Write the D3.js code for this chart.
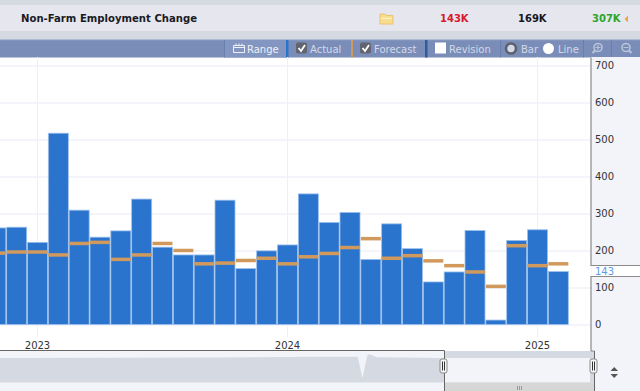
<!DOCTYPE html>
<html>
<head>
<meta charset="utf-8">
<title>Non-Farm Employment Change</title>
<script src="https://cdn.jsdelivr.net/npm/d3@7"></script>
<style>
  html, body { margin: 0; padding: 0; background: #fff; overflow: hidden; }
  svg { display: block; font-family: "DejaVu Sans", sans-serif; }
  .tb { fill: #d3d9e8; font-size: 10px; }
  .axis text { fill: #333; font-size: 10px; font-family: "DejaVu Sans", sans-serif; }
  .axis path { display: none; }
</style>
</head>
<body>
<div id="chart"></div>
<script>
// values are release months
var months = ["2022-11", "2022-12", "2023-01", "2023-02", "2023-03", "2023-04", "2023-05",
  "2023-06", "2023-07", "2023-08", "2023-09", "2023-10", "2023-11", "2023-12",
  "2024-01", "2024-02", "2024-03", "2024-04", "2024-05", "2024-06", "2024-07",
  "2024-08", "2024-09", "2024-10", "2024-11", "2024-12", "2025-01", "2025-02"];
var actual = [261, 263, 222, 517, 309, 236, 253, 339, 209, 188, 188, 336, 151, 199,
  215, 353, 276, 303, 176, 272, 205, 115, 142, 254, 12, 227, 256, 143];
var forecast = [193, 196, 196, 188, 219, 222, 176, 188, 219, 200, 164, 166, 173, 179,
  164, 183, 192, 208, 232, 179, 186, 172, 159, 142, 103, 213, 159, 164];
var yTicks = [0, 100, 200, 300, 400, 500, 600, 700];
var yearTicks = ["2023-01", "2024-01", "2025-01"];
var latest = "143";

var title = "Non-Farm Employment Change";
var headerValues = ["143K", "169K", "307K"];

// overview strip at the bottom, month position and value in thousands
var navMonths = [0, 20, 40, 60, 67.9, 68.8, 69.7, 70.1, 71.5, 76, 84, 95, 112];
var navValues = [300, 500, 800, 1400, 1400, -19700, 2500, 4200, 1000, 600, 300, 200, 200];

var width = 640, height = 391;
var lightBand = "#f2f4fa", greyBand = "#d5d9e2";

var svg = d3.select("#chart").append("svg")
  .attr("width", width)
  .attr("height", height);

function box(parent, x, y, w, h, fill) {
  return parent.append("rect")
    .attr("x", x).attr("y", y)
    .attr("width", w).attr("height", h)
    .attr("fill", fill);
}

// header
box(svg, 0, 0, width, 5, greyBand);
box(svg, 0, 5, width, 26, "#e6e7ee");
box(svg, 0, 31, width, 9, greyBand);

svg.append("text")
  .attr("x", 21).attr("y", 22)
  .attr("font-size", 10.1).attr("font-weight", "bold").attr("fill", "#1a1a24")
  .text(title);

var headerX = [440, 518, 592];
var headerColors = ["#d7192b", "#17171f", "#2ca52c"];
svg.selectAll(".headerValue")
  .data(headerValues)
  .enter().append("text")
  .attr("class", "headerValue")
  .attr("x", function(d, i) { return headerX[i]; })
  .attr("y", 22)
  .attr("font-size", 10).attr("font-weight", "bold")
  .attr("fill", function(d, i) { return headerColors[i]; })
  .text(function(d) { return d; });

svg.append("path").attr("d", "M628 15.5 L628 22.5 L624.5 19 Z").attr("fill", "#f0a53c");

// folder icon
svg.append("path").attr("d", "M380 14 h5 l1.5 1.5 h6.5 v8.5 h-13 Z")
  .attr("fill", "#f8dd8e").attr("stroke", "#eac270").attr("stroke-width", 1);
box(svg, 381, 18, 11, 1, "#fff3c8");

// toolbar
box(svg, 0, 40, width, 17.5, "#7a8db8");
box(svg, 0, 39.5, width, 1, "#8a9ac0");
box(svg, 225, 40, 61, 17.5, "#8396c1");
box(svg, 286, 40, 2.5, 17.5, "#2a74cc");
box(svg, 351, 40, 2, 17.5, "#d19a5c");
box(svg, 425, 40, 2.5, 17.5, "#2f5a9c");
box(svg, 500, 40, 1, 17.5, "#6a7fae");
box(svg, 583, 40, 1, 17.5, "#6a7fae");
box(svg, 611, 40, 1, 17.5, "#6a7fae");
box(svg, 224, 40, 1, 17.5, "#6a7fae");

var toolbarLabels = ["Range", "Actual", "Forecast", "Revision", "Bar", "Line"];
var toolbarX = [247, 310, 374, 449, 521, 558];
svg.selectAll(".tb")
  .data(toolbarLabels)
  .enter().append("text")
  .attr("class", "tb")
  .attr("x", function(d, i) { return toolbarX[i]; })
  .attr("y", 52.5)
  .attr("fill-opacity", 1)
  .style("fill", function(d) { return d == "Range" ? "#eef1f7" : null; })
  .text(function(d) { return d; });

// calendar icon
svg.append("path").attr("d", "M233.5 45.5 h11 v7 h-11 Z M233.5 47.5 h11 M236 43.5 v2 M239 43.5 v2 M242 43.5 v2")
  .attr("fill", "none").attr("stroke", "#eef1f7").attr("stroke-width", 1);

[296, 360].forEach(function(x) {
  box(svg, x, 42.5, 11, 11, "#62656f").attr("rx", 2);
  svg.append("path")
    .attr("d", "M" + (x + 2.5) + " 48 l2.5 3 l4 -6")
    .attr("fill", "none").attr("stroke", "#fff").attr("stroke-width", 1.8);
});
box(svg, 435, 42.5, 11, 11, "#fff");

svg.append("circle").attr("cx", 511).attr("cy", 48.5).attr("r", 5)
  .attr("fill", "#d3d9e8").attr("stroke", "#5e616b").attr("stroke-width", 2.6);
svg.append("circle").attr("cx", 548.5).attr("cy", 48.5).attr("r", 5.5).attr("fill", "#fff");

// zoom icons
[[598, "M-2.5 0 h5 M0 -2.5 v5"], [626, "M-2.5 0 h5"]].forEach(function(z) {
  var g = svg.append("g").attr("transform", "translate(" + z[0] + ",47.5)")
    .attr("fill", "none").attr("stroke", "#b9c4da");
  g.append("circle").attr("r", 4).attr("stroke-width", 1.6);
  g.append("path").attr("d", z[1]).attr("stroke-width", 1);
  g.append("path").attr("d", z[0] == 598 ? "M-3 3 L-5.5 5.5" : "M3 3 L5.5 5.5").attr("stroke-width", 2.2);
});

// scales
var x = d3.scaleBand()
  .domain(months)
  .range([-14.58, 568.75])
  .paddingInner(0.04)
  .paddingOuter(0.02);

var y = d3.scaleLinear()
  .domain([0, 700])
  .range([324.5, 65.5]);

var plot = svg.append("g");

// gridlines come from the axes, bars go on top
var yGrid = d3.axisRight(y).tickValues(yTicks).tickSize(591).tickFormat("");
plot.append("g").attr("class", "axis").call(yGrid)
  .selectAll("line").attr("stroke", "#f3f5fa").attr("stroke-width", 2);

var xAxis = d3.axisBottom(x)
  .tickValues(yearTicks)
  .tickSize(-280)
  .tickPadding(4.5)
  .tickFormat(function(d) { return d.slice(0, 4); });
plot.append("g").attr("class", "axis")
  .attr("transform", "translate(0,337)")
  .call(xAxis)
  .selectAll("line").attr("stroke", "#eef0f5").attr("stroke-width", 1);
plot.selectAll(".axis text").attr("fill", "#444");

plot.selectAll(".bar")
  .data(actual)
  .enter().append("rect")
  .attr("class", "bar")
  .attr("x", function(d, i) { return x(months[i]); })
  .attr("y", function(d) { return y(d); })
  .attr("width", x.bandwidth())
  .attr("height", function(d) { return y(0) - y(d); })
  .attr("fill", "#2a74cd")
  .attr("stroke", "#9cc0ec")
  .attr("stroke-width", 0.8);

plot.selectAll(".fc")
  .data(forecast)
  .enter().append("rect")
  .attr("class", "fc")
  .attr("x", function(d, i) { return x(months[i]); })
  .attr("y", function(d) { return y(d) - 1.75; })
  .attr("width", x.bandwidth())
  .attr("height", 3.5)
  .attr("fill", "#d19a5c");

// right axis panel
box(svg, 591, 57, 49, 294, lightBand);
svg.append("path").attr("d", "M591 57.5 V265.5 H640 M640 276.5 H591 V351")
  .attr("fill", "none").attr("stroke", "#8a8a8a").attr("stroke-width", 1.2);
box(svg, 591.6, 266.1, 49, 9.8, "#fff");

var yAxis = d3.axisRight(y).tickValues(yTicks).tickSize(0).tickPadding(0);
svg.append("g").attr("class", "axis")
  .attr("transform", "translate(595,0)")
  .call(yAxis);

svg.append("text")
  .attr("x", 595).attr("y", 275)
  .attr("font-size", 10).attr("fill", "#5a9be6")
  .text(latest);

// overview strip
var navX = d3.scaleLinear().domain([0, 112]).range([0, 590]);
var navY = d3.scaleLinear().domain([-24300, 200]).range([382.5, 358]);
var navArea = d3.area()
  .x(function(d, i) { return navX(navMonths[i]); })
  .y0(navY(-24300))
  .y1(function(d) { return navY(d); });

box(svg, 0, 351, 595, 40, lightBand);
box(svg, 595, 351, 45, 40, lightBand);
box(svg, 444, 351, 150, 31.5, greyBand);

svg.append("clipPath").attr("id", "navLeft").append("rect")
  .attr("x", 0).attr("y", 340).attr("width", 444).attr("height", 51);
svg.append("clipPath").attr("id", "navRight").append("rect")
  .attr("x", 444).attr("y", 340).attr("width", 150).attr("height", 51);

svg.append("path").datum(navValues)
  .attr("d", navArea)
  .attr("fill", greyBand)
  .attr("clip-path", "url(#navLeft)");
svg.append("path").datum(navValues)
  .attr("d", navArea)
  .attr("fill", lightBand)
  .attr("clip-path", "url(#navRight)");

box(svg, 444, 382.5, 150, 8.5, "#d6d6d6");
svg.append("path").attr("d", "M517.5 386 v4 M519.5 386 v4 M521.5 386 v4")
  .attr("stroke", "#8a8a8a").attr("stroke-width", 0.8);

svg.append("path").attr("d", "M0 350.5 H444.5 V391 M594.5 391 V351")
  .attr("fill", "none").attr("stroke", "#666").attr("stroke-width", 1);
svg.append("path").attr("d", "M591 351 H594.5").attr("stroke", "#8a8a8a");

// handles
[443.5, 593.5].forEach(function(hx) {
  box(svg, hx - 3.5, 359, 7, 14, "#f5f5f7")
    .attr("rx", 2).attr("stroke", "#8a8a8a").attr("stroke-width", 1);
  svg.append("path").attr("d", "M" + (hx - 1) + " 361.5 v9 M" + (hx + 1) + " 361.5 v9")
    .attr("stroke", "#333").attr("stroke-width", 1);
});

// up and down arrows next to the strip
svg.append("path").attr("d", "M610.5 371 L618 371 L614.2 367 Z M610.5 374 L618 374 L614.2 378 Z")
  .attr("fill", "#555");
</script>
</body>
</html>
